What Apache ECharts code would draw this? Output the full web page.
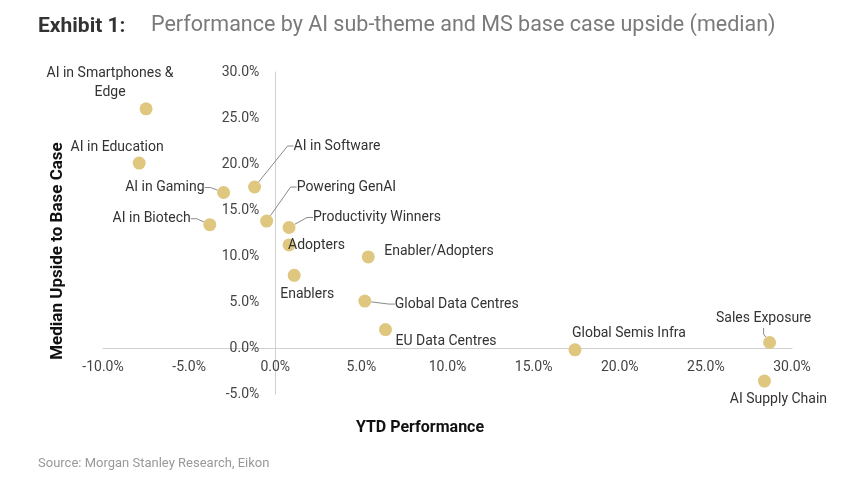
<!DOCTYPE html>
<html>
<head>
<meta charset="utf-8">
<script src="https://cdn.jsdelivr.net/npm/echarts@6/dist/echarts.min.js"></script>
<style>
html,body{margin:0;padding:0;background:#fff;}
#chart{width:848px;height:483px;}
</style>
</head>
<body>
<div id="chart"></div>
<script>
// ---- data ----
const themes = [
  'AI in Smartphones &\nEdge', 'AI in Education', 'AI in Gaming', 'AI in Software',
  'AI in Biotech', 'Powering GenAI', 'Productivity Winners', 'Adopters', 'Enablers',
  'Enabler/Adopters', 'Global Data Centres', 'EU Data Centres', 'Global Semis Infra',
  'Sales Exposure', 'AI Supply Chain'
];
const ytdPerf = [-7.5, -7.9, -3.0, -1.2, -3.8, -0.5, 0.8, 0.8, 1.1, 5.4, 5.2, 6.4, 17.4, 28.7, 28.4];
const upside  = [26.0, 20.1, 16.9, 17.5, 13.4, 13.8, 13.1, 11.2, 7.9, 9.9, 5.1, 2.0, -0.2, 0.6, -3.6];
const xTicks = [-10, 30, 5];   // min, max, step
const yTicks = [-5, 30, 5];

// ---- label placement (pixel offsets from dot centre, align, leader line) ----
const labelPlace = [
  [-36, -26, 'center', false],
  [-22, -16, 'center', false],
  [-19, -5, 'right', true],
  [39, -41, 'left', true],
  [-19, -6, 'right', true],
  [30, -34, 'left', true],
  [24, -10, 'left', true],
  [-1, 1, 'left', false],
  [-14, 19, 'left', false],
  [16, -5, 'left', false],
  [30, 3, 'left', true],
  [10, 12, 'left', false],
  [-3, -16, 'left', false],
  [-6, -24, 'center', true],
  [14, 18, 'center', false]
];

const FONT = "Roboto, 'Noto Sans', sans-serif";
const W = 848, H = 483;
const G = { left: 103, right: 56, top: 72, bottom: 89 };
const gw = W - G.left - G.right, gh = H - G.top - G.bottom;
// shift axes so they cross at zero
const yOff = -gw * (0 - xTicks[0]) / (xTicks[1] - xTicks[0]);
const xOff = -gh * (0 - yTicks[0]) / (yTicks[1] - yTicks[0]);

const points = themes.map((n, i) => ({
  name: n,
  value: [ytdPerf[i], upside[i]],
  labelLine: { show: labelPlace[i][3] }
}));

const chart = echarts.init(document.getElementById('chart'), null, { renderer: 'canvas' });
chart.setOption({
  animation: false,
  backgroundColor: '#fff',
  grid: { left: G.left, right: G.right, top: G.top, bottom: G.bottom, containLabel: false },
  xAxis: {
    type: 'value', min: xTicks[0], max: xTicks[1], interval: xTicks[2],
    position: 'bottom', offset: xOff,
    axisLine: { onZero: false, lineStyle: { color: '#d0d0d0', width: 1 } },
    axisTick: { show: false },
    splitLine: { show: false },
    axisLabel: { margin: 12, color: '#444', fontSize: 14, fontFamily: FONT,
      formatter: v => v.toFixed(1) + '%' }
  },
  yAxis: {
    type: 'value', min: yTicks[0], max: yTicks[1], interval: yTicks[2],
    position: 'left', offset: yOff,
    axisLine: { onZero: false, lineStyle: { color: '#d0d0d0', width: 1 } },
    axisTick: { show: false },
    splitLine: { show: false },
    axisLabel: { margin: 16, color: '#444', fontSize: 14, fontFamily: FONT,
      formatter: v => v.toFixed(1) + '%' }
  },
  series: [{
    type: 'scatter',
    symbolSize: 13,
    itemStyle: { color: '#dfc77f', opacity: 1 },
    data: points,
    label: { show: true, formatter: '{b}', color: '#333', fontSize: 14, fontFamily: FONT,
      lineHeight: 19 },
    labelLine: { show: false, length2: 6, lineStyle: { color: '#8a8a8a', width: 1 } },
    labelLayout: function (p) {
      const o = labelPlace[p.dataIndex];
      const cx = p.rect.x + p.rect.width / 2;
      const cy = p.rect.y + p.rect.height / 2;
      return { x: cx + o[0], y: cy + o[1], align: o[2], verticalAlign: 'middle' };
    }
  }],
  graphic: [
    { type: 'text', left: 38, top: 16, style: { text: 'Exhibit 1:', fill: '#333',
      font: "bold 21px " + FONT } },
    { type: 'text', left: 151, top: 15, style: { text: 'Performance by AI sub-theme and MS base case upside (median)',
      fill: '#7a7a7a', font: "21.5px " + FONT } },
    { type: 'text', x: 420, y: 428, style: { text: 'YTD Performance', fill: '#111',
      font: "bold 16px " + FONT, align: 'center', verticalAlign: 'middle' } },
    { type: 'text', x: 58, y: 251, rotation: Math.PI / 2, style: { text: 'Median Upside to Base Case', fill: '#111',
      font: "bold 17px " + FONT, align: 'center', verticalAlign: 'middle' } },
    { type: 'text', left: 38, top: 457, style: { text: 'Source: Morgan Stanley Research, Eikon', fill: '#999',
      font: "13px " + FONT } }
  ]
});
</script>
</body>
</html>
